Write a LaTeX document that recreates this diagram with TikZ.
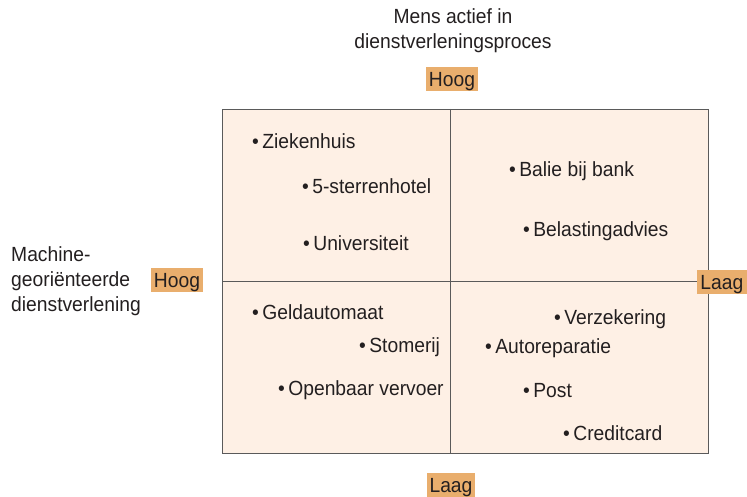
\documentclass[tikz,border=0pt]{standalone}
\usepackage{fontspec}
\setmainfont[FakeStretch=0.94]{Liberation Sans}
\begin{document}
\begin{tikzpicture}[x=1pt,y=-1pt,
  every node/.style={text=txt, font=\fontsize{20.5}{24}\selectfont, inner sep=0pt},
  item/.style={anchor=west},
  level/.style={fill=lvl, inner xsep=3pt, minimum height=24pt, text depth=0pt},
  heading/.style={align=center}]
\definecolor{txt}{HTML}{231F20}
\definecolor{lvl}{HTML}{E9AE6D}
\definecolor{pane}{HTML}{FEF0E5}
\definecolor{frame}{HTML}{5A5A5A}
\useasboundingbox (0,0) rectangle (747,497);
% quadrant frame
\draw[frame, fill=pane, line width=0.8pt] (222,109) rectangle (708,453);
\coordinate (vt) at (450,109);
\coordinate (vb) at (450,453);
\coordinate (hl) at (222,281);
\coordinate (hr) at (708,281);
\draw[frame, line width=0.8pt] (vt) -- (vb);
\draw[frame, line width=0.8pt] (hl) -- (hr);
% axis labels
\node[heading] (mens) at (453,31) {Mens actief in\\[1pt]dienstverleningsproces};
\node[level] (hoogtop) at (452,79) {Hoog};
\node[level] (laagbot) at (451,485) {Laag};
\node[level] (hoogleft) at (177,280) {Hoog};
\node[level, anchor=east, minimum width=50pt] (laagright) at (747,282) {Laag};
\node[anchor=west, align=left] (machine) at (11,281) {Machine-\\[1pt]georiënteerde\\[1pt]dienstverlening};
% items
\node[item] (zk) at (252,141) {\textbullet\,Ziekenhuis};
\node[item] (st) at (302,186) {\textbullet\,5-sterrenhotel};
\node[item] (un) at (303,243) {\textbullet\,Universiteit};
\node[item] (bb) at (509,171) {\textbullet\,Balie bij bank};
\node[item] (ba) at (523,231) {\textbullet\,Belastingadvies};
\node[item] (ga) at (252,312) {\textbullet\,Geldautomaat};
\node[item] (sm) at (359,347) {\textbullet\,Stomerij};
\node[item] (ov) at (278,390) {\textbullet\,Openbaar vervoer};
\node[item] (vz) at (554,319) {\textbullet\,Verzekering};
\node[item] (ar) at (485,348) {\textbullet\,Autoreparatie};
\node[item] (po) at (523,391) {\textbullet\,Post};
\node[item] (cc) at (563,433) {\textbullet\,Creditcard};
\end{tikzpicture}
\end{document}
